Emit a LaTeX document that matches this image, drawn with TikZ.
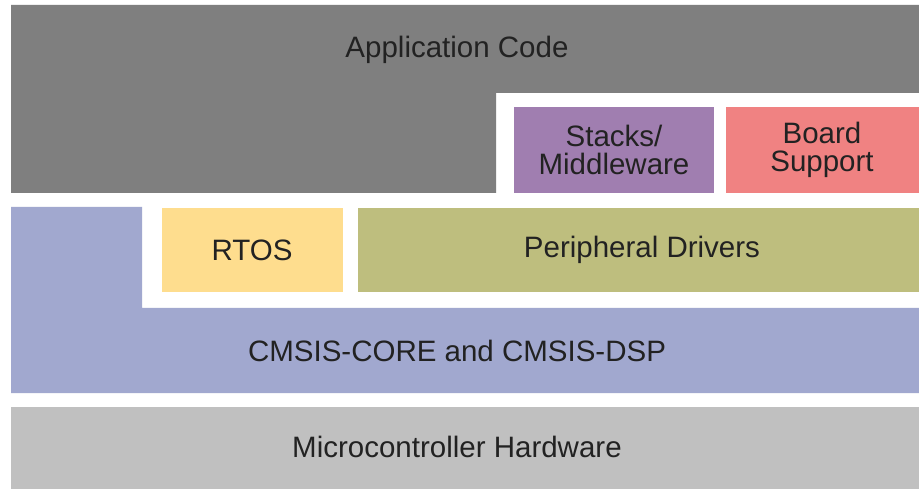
\documentclass[tikz,border=0pt]{standalone}
\usepackage{fontspec}
\setmainfont{Liberation Sans}
\definecolor{appgray}{HTML}{7F7F7F}
\definecolor{stackpurple}{HTML}{A07EB0}
\definecolor{boardred}{HTML}{F08282}
\definecolor{cmsisblue}{HTML}{A1A8CF}
\definecolor{rtosyellow}{HTML}{FEDD8E}
\definecolor{drvolive}{HTML}{BEBE7E}
\definecolor{hwgray}{HTML}{C0C0C0}
\definecolor{txtdark}{HTML}{222222}
\tikzset{
  layer/.style={text=txtdark, font=\fontsize{29.5}{28.5}\selectfont, align=center},
}
\begin{document}
\begin{tikzpicture}[x=1pt, y=-1pt]
    \useasboundingbox (0,0) rectangle (919,489);
    \fill[white] (0,0) rectangle (919,489);

    % Application code (top, with notch on the right)
    \fill[appgray] (11,5) -- (919,5) -- (919,93) -- (496,93) -- (496,193) -- (11,193) -- cycle;
    \node[layer] (app) at (457,50) {Application Code};

    % Stacks and board support in the notch
    \fill[stackpurple] (514,107) rectangle (714,193);
    \node[layer] (stacks) at (614,150) {Stacks/\\Middleware};
    \fill[boardred] (726,107) rectangle (919,193);
    \node[layer] (board) at (822,150) {Board\\Support};

    % CMSIS (L shape)
    \fill[cmsisblue] (11,207) -- (142,207) -- (142,308) -- (919,308) -- (919,393) -- (11,393) -- cycle;
    \node[layer] (cmsis) at (457,351) {CMSIS-CORE and CMSIS-DSP};

    % RTOS and drivers sit in the CMSIS notch
    \fill[rtosyellow] (162,208) rectangle (343,292);
    \node[layer] (rtos) at (252,250) {RTOS};
    \fill[drvolive] (358,208) rectangle (919,292);
    \node[layer] (drivers) at (642,250) {Peripheral Drivers};

    % Hardware
    \fill[hwgray] (11,407) rectangle (919,489);
    \node[layer] (hw) at (457,447) {Microcontroller Hardware};
\end{tikzpicture}
\end{document}
